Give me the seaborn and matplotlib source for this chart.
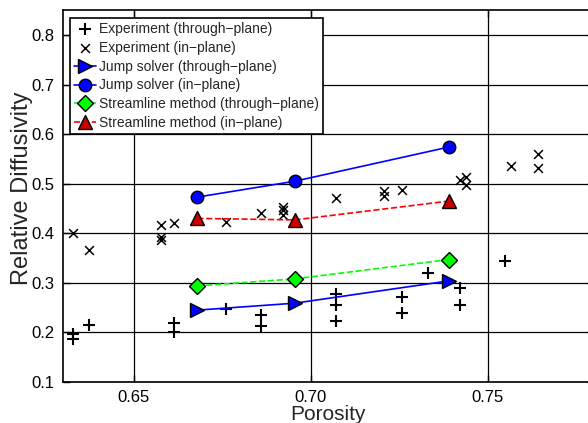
import matplotlib
matplotlib.use("Agg")
import matplotlib.pyplot as plt
import seaborn as sns

# Experimental data (through-plane)
exp_tp_por = [0.633, 0.633, 0.6375, 0.6615, 0.6615, 0.676, 0.686, 0.686,
              0.7072, 0.7072, 0.7072, 0.7258, 0.7258, 0.733, 0.7422, 0.7422, 0.7547]
exp_tp_dif = [0.197, 0.186, 0.215, 0.219, 0.200, 0.247, 0.235, 0.213,
              0.277, 0.255, 0.224, 0.272, 0.240, 0.319, 0.289, 0.255, 0.344]

# Experimental data (in-plane)
exp_ip_por = [0.633, 0.6375, 0.6578, 0.6578, 0.6578, 0.6615, 0.676, 0.686,
              0.6923, 0.6923, 0.6923, 0.7072, 0.7206, 0.7206, 0.7258,
              0.7422, 0.7438, 0.7438, 0.7566, 0.7642, 0.7642]
exp_ip_dif = [0.400, 0.366, 0.4165, 0.392, 0.386, 0.421, 0.422, 0.441,
              0.453, 0.447, 0.436, 0.4716, 0.4857, 0.475, 0.487,
              0.507, 0.514, 0.497, 0.5355, 0.560, 0.531]

# Simulations
sim_por = [0.668, 0.6955, 0.739]
jump_tp = [0.245, 0.259, 0.304]
jump_ip = [0.473, 0.505, 0.574]
stream_tp = [0.294, 0.308, 0.347]
stream_ip = [0.430, 0.427, 0.465]

sns.set_style("whitegrid")
plt.rcParams['font.family'] = ['Liberation Sans', 'DejaVu Sans']

fig = plt.figure(figsize=(5.88, 4.23), dpi=100)
ax = fig.add_axes([0.1066, 0.0969, 0.904, 0.879])

sns.scatterplot(x=exp_tp_por, y=exp_tp_dif, marker='+', color='k', s=70,
                linewidth=1.5, label='Experiment (through\u2212plane)', ax=ax, zorder=3)
sns.scatterplot(x=exp_ip_por, y=exp_ip_dif, marker='x', color='k', s=40,
                linewidth=1.1, label='Experiment (in\u2212plane)', ax=ax, zorder=3)

sns.lineplot(x=sim_por, y=jump_tp, color='#0000ff', linestyle='-', linewidth=1.2,
             marker='>', markersize=10, markerfacecolor='#0000ff', markeredgecolor='k',
             markeredgewidth=1, label='Jump solver (through\u2212plane)', ax=ax, zorder=4)
sns.lineplot(x=sim_por, y=jump_ip, color='#0000ff', linestyle='-', linewidth=1.2,
             marker='o', markersize=9, markerfacecolor='#0000ff', markeredgecolor='k',
             markeredgewidth=1, label='Jump solver (in\u2212plane)', ax=ax, zorder=4)
sns.lineplot(x=sim_por, y=stream_tp, color='#00ff00', linestyle='--', linewidth=1.2,
             marker='D', markersize=8, markerfacecolor='#00ff00', markeredgecolor='k',
             markeredgewidth=1, label='Streamline method (through\u2212plane)', ax=ax, zorder=4)
sns.lineplot(x=sim_por, y=stream_ip, color='#ff0000', linestyle='--', linewidth=1.2,
             marker='^', markersize=10, markerfacecolor='#cc0000', markeredgecolor='k',
             markeredgewidth=1, label='Streamline method (in\u2212plane)', ax=ax, zorder=4)

ax.set_xlim(0.63, 0.78)
ax.set_ylim(0.1, 0.85)
ax.set_xticks([0.65, 0.70, 0.75])
ax.set_xticklabels(['0.65', '0.70', '0.75'])
ax.set_yticks([0.1, 0.2, 0.3, 0.4, 0.5, 0.6, 0.7, 0.8])
ax.set_yticklabels(['0.1', '0.2', '0.3', '0.4', '0.5', '0.6', '0.7', '0.8'])
ax.grid(True, color='k', linewidth=0.9, linestyle='-')
ax.set_axisbelow(True)
for sp in ax.spines.values():
    sp.set_color('k')
    sp.set_linewidth(1.2)
ax.tick_params(direction='in', length=5, width=1, colors='k', labelsize=12,
               top=True, right=True, bottom=True, left=True, pad=6)
ax.set_xlabel('Porosity', fontsize=15, labelpad=0)
ax.set_ylabel('Relative Diffusivity', fontsize=17)
ax.yaxis.set_label_coords(-0.056, 0.52)

leg = ax.legend(loc='upper left', bbox_to_anchor=(0.013, 0.98), fontsize=10,
                frameon=True, fancybox=False, framealpha=1, edgecolor='k',
                handlelength=1.6, handletextpad=0.2, borderpad=0.3,
                labelspacing=0.35, borderaxespad=0)
leg.get_frame().set_linewidth(1.2)

fig.savefig('out.png', dpi=100)
